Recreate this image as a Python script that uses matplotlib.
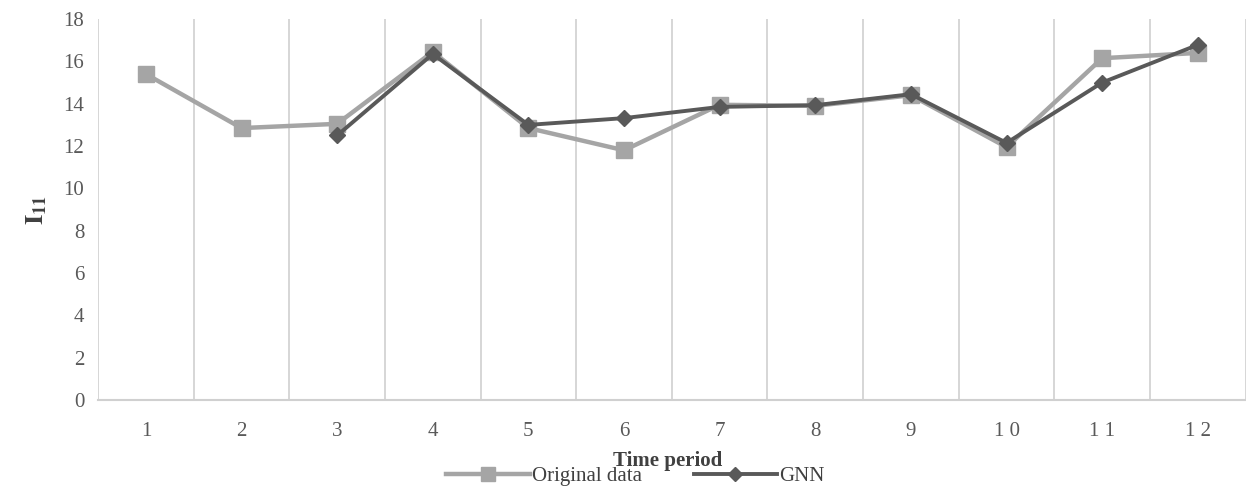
import numpy as np
import matplotlib
matplotlib.use("Agg")
import matplotlib.pyplot as plt
from matplotlib.lines import Line2D

plt.rcParams['font.family'] = ['Liberation Serif', 'DejaVu Serif']
plt.rcParams['mathtext.fontset'] = 'stix'

periods = ['1', '2', '3', '4', '5', '6', '7', '8', '9', '1 0', '1 1', '1 2']
original = [15.4, 12.85, 13.05, 16.45, 12.85, 11.8, 13.95, 13.9, 14.4, 11.95, 16.15, 16.4]
gnn = [np.nan, np.nan, 12.5, 16.35, 13.0, 13.32, 13.85, 13.93, 14.45, 12.15, 15.0, 16.78]

ORIG_COLOR = '#a5a5a5'
GNN_COLOR = '#595959'
TEXT_COLOR = '#595959'

fig = plt.figure(figsize=(12.46, 4.88), dpi=100)
ax = fig.add_axes([0.0787, 0.18, 0.921, 0.781])

x = np.arange(len(periods))
ax.plot(x, original, color=ORIG_COLOR, lw=3.2, marker='s', ms=11, zorder=3)
ax.plot(x, gnn, color=GNN_COLOR, lw=2.8, marker='D', ms=8, zorder=4)

ax.set_xlim(-0.5, len(periods) - 0.5)
ax.set_ylim(0, 18)
ax.set_yticks(np.arange(0, 19, 2))
ax.set_xticks(x)
ax.set_xticklabels(periods)
ax.set_xticks(np.arange(-0.5, len(periods), 1), minor=True)
ax.tick_params(axis='both', which='major', length=0, labelsize=15, colors=TEXT_COLOR, pad=10)
ax.tick_params(axis='x', which='major', pad=16)
ax.tick_params(axis='x', which='minor', length=0)
ax.grid(True, axis='x', which='minor', color='#d0d0d0', lw=1.2)
for side in ['top', 'right', 'left']:
    ax.spines[side].set_visible(False)
ax.spines['bottom'].set_color('#d0d0d0')
ax.spines['bottom'].set_linewidth(1.5)

ax.set_ylabel(r'$\mathbf{I}_{\mathbf{11}}$', fontsize=19, color='#404040', labelpad=10)
fig.text(0.536, 0.045, 'Time period', ha='center', fontsize=15, fontweight='bold', color='#404040')

handles = [
    Line2D([], [], color=ORIG_COLOR, lw=3.2, marker='s', ms=10),
    Line2D([], [], color=GNN_COLOR, lw=2.8, marker='D', ms=7),
]
fig.legend(handles, ['Original data', 'GNN'], loc='lower center', bbox_to_anchor=(0.51, -0.035),
           ncol=2, frameon=False, fontsize=15, handlelength=4, columnspacing=2.5,
           handletextpad=0.1, labelcolor='#404040')

fig.savefig('out.png', dpi=100)
